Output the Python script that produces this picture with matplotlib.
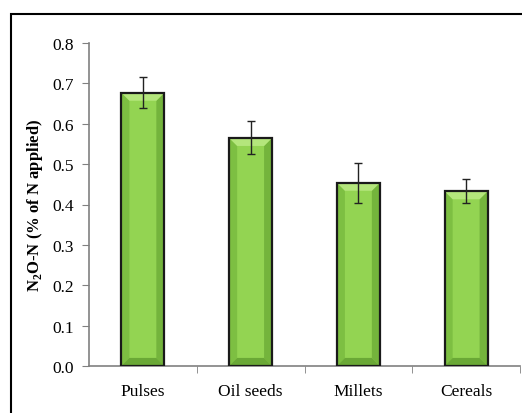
import matplotlib
matplotlib.use("Agg")
from matplotlib import pyplot as plt
from matplotlib.patches import Polygon, Rectangle
import numpy as np

plt.rcParams['font.family'] = ['Liberation Serif', 'DejaVu Serif']
plt.rcParams['mathtext.fontset'] = 'custom'
plt.rcParams['mathtext.rm'] = 'Liberation Serif'
plt.rcParams['mathtext.bf'] = 'Liberation Serif:bold'

crops = ["Pulses", "Oil seeds", "Millets", "Cereals"]
n2o = [0.677, 0.565, 0.454, 0.433]
err = [0.039, 0.041, 0.05, 0.029]
yticks = [0.0, 0.1, 0.2, 0.3, 0.4, 0.5, 0.6, 0.7, 0.8]

fig = plt.figure(figsize=(5.22, 4.14), dpi=100)
ax = fig.add_axes([89 / 522, 1 - 367 / 414, 431 / 522, 323 / 414])

x = np.arange(len(crops))
bars = ax.bar(x, n2o, width=0.4, color="#93d452", edgecolor="none", zorder=2)

# bevel look: darker sides/bottom, lighter top, drawn from each bar's own geometry
dx, dy = 0.075, 0.02
for b in bars:
    x0, y0 = b.get_x(), b.get_y()
    x1, y1 = x0 + b.get_width(), y0 + b.get_height()
    faces = [
        ([(x0, y0), (x0 + dx, y0 + dy), (x0 + dx, y1 - dy), (x0, y1)], "#7dbf42"),
        ([(x1, y0), (x1 - dx, y0 + dy), (x1 - dx, y1 - dy), (x1, y1)], "#74b43c"),
        ([(x0, y1), (x0 + dx, y1 - dy), (x1 - dx, y1 - dy), (x1, y1)], "#b4e67c"),
        ([(x0, y0), (x0 + dx, y0 + dy), (x1 - dx, y0 + dy), (x1, y0)], "#6aa836"),
    ]
    for pts, c in faces:
        ax.add_patch(Polygon(pts, closed=True, facecolor=c, edgecolor="none", zorder=2.5))
    ax.add_patch(Rectangle((x0, y0), x1 - x0, y1 - y0, fill=False,
                           edgecolor="#1a1a1a", linewidth=1.6, zorder=3))

ax.errorbar(x, n2o, yerr=err, fmt="none", ecolor="#222222", elinewidth=1,
            capsize=3, capthick=1, zorder=4)

ax.set_xlim(-0.5, len(crops) - 0.5)
ax.set_ylim(0, 0.8)
ax.set_yticks(yticks)
ax.set_yticklabels([f"{v:.1f}" for v in yticks])
ax.set_xticks(x)
ax.set_xticklabels(crops)
ax.set_xticks(np.arange(len(crops)) + 0.5, minor=True)
ax.tick_params(axis="x", which="major", length=0, pad=12, labelsize=12.5)
ax.tick_params(axis="x", which="minor", length=5, direction="out", color="#808080")
ax.tick_params(axis="y", length=5, direction="out", color="#808080", pad=6, labelsize=12.5)

for s in ("top", "right"):
    ax.spines[s].set_visible(False)
for s in ("left", "bottom"):
    ax.spines[s].set_color("#808080")
    ax.spines[s].set_linewidth(1.2)

ax.set_ylabel(r"N$_\mathbf{2}$O-N (% of N applied)", fontsize=12, fontweight="bold", labelpad=5)

fig.patches.append(Rectangle((10.5 / 522, -0.1), 2, 1 - 14.5 / 414 + 0.1, fill=False,
                             edgecolor="black", linewidth=1.5, transform=fig.transFigure))

fig.savefig("out.png", dpi=100)
